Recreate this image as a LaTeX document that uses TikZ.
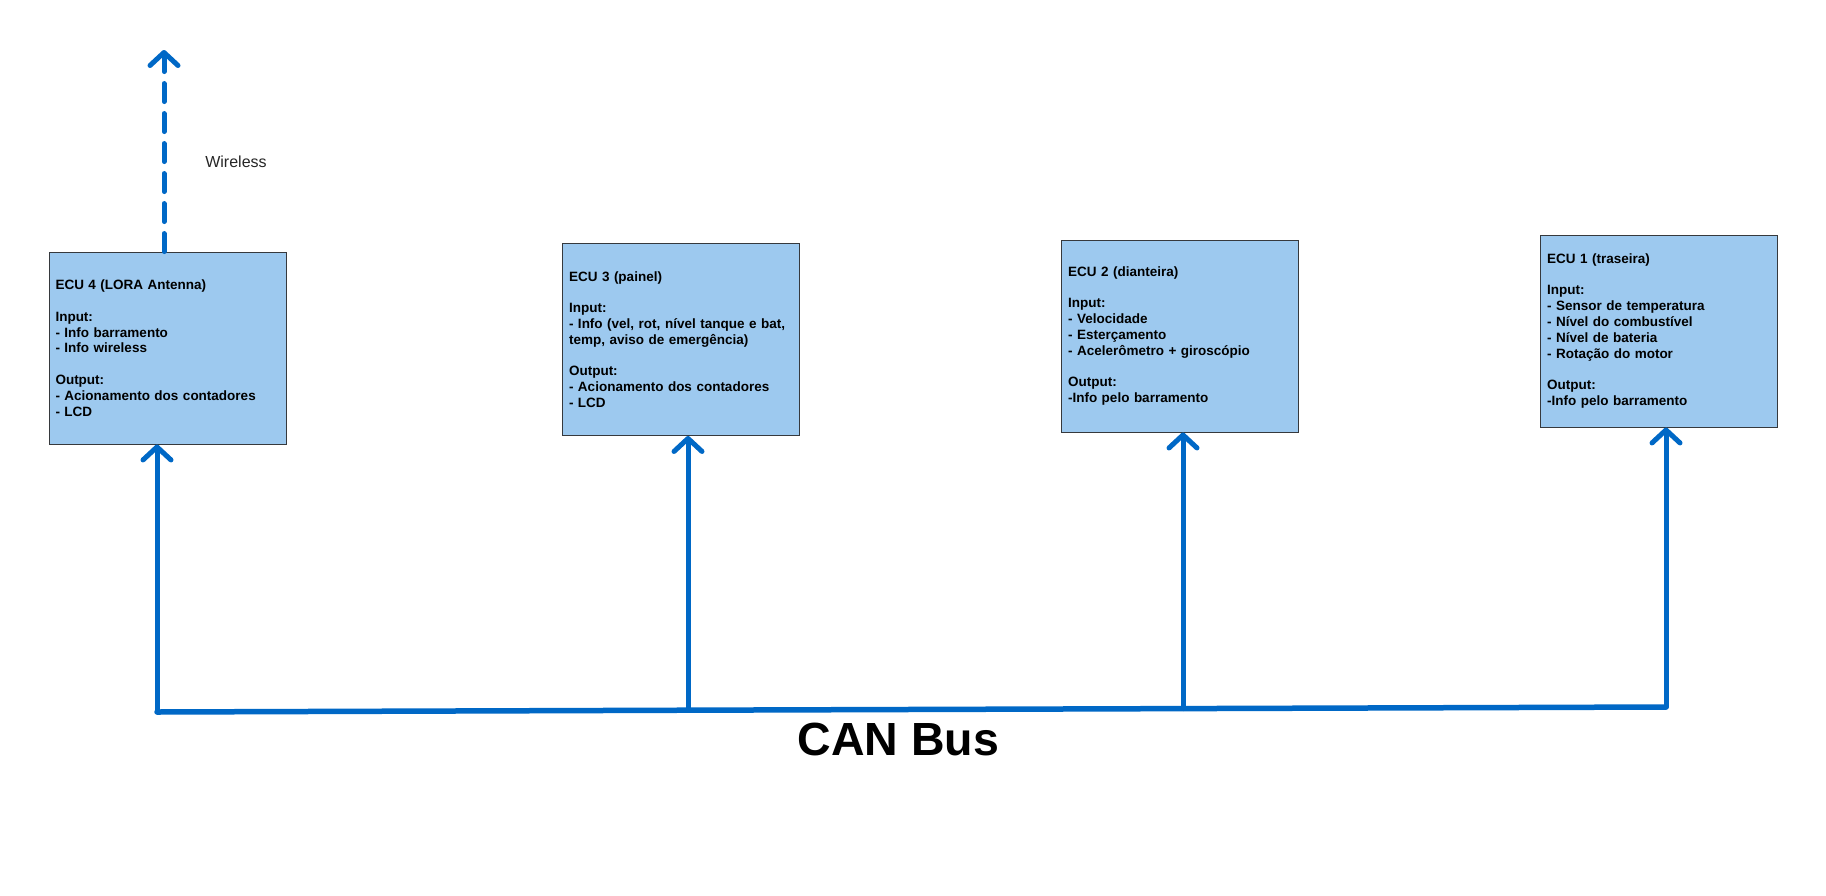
\documentclass[tikz,border=0pt]{standalone}
\usepackage{fontspec}
\setmainfont{Liberation Sans}
\usetikzlibrary{arrows.meta}
\definecolor{busblue}{RGB}{0,104,198}
\definecolor{boxfill}{RGB}{157,201,239}
\definecolor{boxline}{RGB}{54,57,61}
\tikzset{
  ecubox/.style={draw=boxline, line width=0.9pt, fill=boxfill, rectangle,
    text width=224pt, inner xsep=6.5pt, inner ysep=0pt, minimum height=192pt,
    align=left, font=\fontsize{13.5}{15.8}\selectfont\bfseries},
  busline/.style={draw=busblue, line width=5.5pt, line cap=round, line join=round},
  uparrow/.style={draw=busblue, line width=5pt, line cap=round,
    -{Straight Barb[length=13pt,width=28pt,round]}},
  wirelessarrow/.style={draw=busblue, line width=5pt, line cap=round,
    dash pattern=on 18pt off 12pt,
    -{Straight Barb[length=13pt,width=28pt,round]}}
}
\begin{document}
\begin{tikzpicture}[x=1pt,y=-1pt]
\useasboundingbox (0,0) rectangle (1826,895);
\fill[white] (0,0) rectangle (1826,895);

\node[ecubox] (ecu4) at (167.5,348) {ECU 4 (LORA Antenna)\\[15.8pt]Input:\\- Info barramento\\- Info wireless\\[15.8pt]Output:\\- Acionamento dos contadores\\- LCD};
\node[ecubox] (ecu3) at (681,339.5) {ECU 3 (painel)\\[15.8pt]Input:\\- Info (vel, rot, nível tanque e bat,\\temp, aviso de emergência)\\[15.8pt]Output:\\- Acionamento dos contadores\\- LCD};
\node[ecubox] (ecu2) at (1180,336) {ECU 2 (dianteira)\\[15.8pt]Input:\\- Velocidade\\- Esterçamento\\- Acelerômetro + giroscópio\\[15.8pt]Output:\\-Info pelo barramento};
\node[ecubox] (ecu1) at (1659,331) {ECU 1 (traseira)\\[15.8pt]Input:\\- Sensor de temperatura\\- Nível do combustível\\- Nível de bateria\\- Rotação do motor\\[15.8pt]Output:\\-Info pelo barramento};

\coordinate (b4) at (157,712);
\coordinate (b3) at (688,710.2);
\coordinate (b2) at (1183,708.6);
\coordinate (b1) at (1666,707);
\coordinate (wtop) at (164,50);

\draw[busline] (b4) -- (b3) -- (b2) -- (b1);
\draw[uparrow] (b4) -- (b4 |- ecu4.south);
\draw[uparrow] (b3) -- (b3 |- ecu3.south);
\draw[uparrow] (b2) -- (b2 |- ecu2.south);
\draw[uparrow] (b1) -- (b1 |- ecu1.south);

\draw[wirelessarrow] (wtop |- ecu4.north) -- (wtop);

\node[font=\fontsize{16}{19}\selectfont, text=black!85] (wlabel) at (236,162) {Wireless};
\node[font=\fontsize{46.5}{52}\selectfont\bfseries, anchor=base, inner sep=0pt] (canbus) at (898.5,755) {CAN Bus};
\end{tikzpicture}
\end{document}
